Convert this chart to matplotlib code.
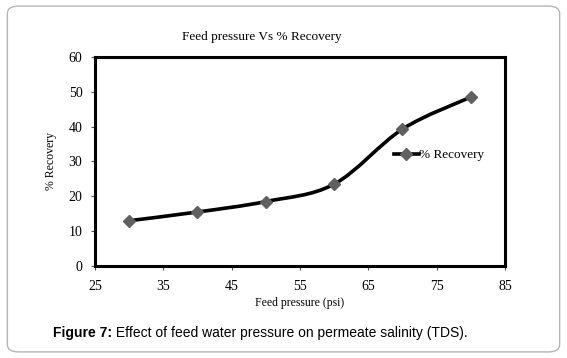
import matplotlib
matplotlib.use("Agg")
import matplotlib.pyplot as plt
from matplotlib.path import Path
from matplotlib.patches import PathPatch, FancyBboxPatch
from matplotlib.lines import Line2D
import numpy as np

pressure = [30, 40, 50, 60, 70, 80]
recovery = [13.0, 15.5, 18.5, 23.5, 39.3, 48.5]
x_ticks = [25, 35, 45, 55, 65, 75, 85]
y_ticks = [0, 10, 20, 30, 40, 50, 60]
title = "Feed pressure Vs % Recovery"
x_label = "Feed pressure (psi)"
y_label = "% Recovery"
series_name = "% Recovery"
caption_bold = "Figure 7:"
caption_rest = " Effect of feed water pressure on permeate salinity (TDS)."

serif = ["Liberation Serif", "DejaVu Serif"]
sans = ["Liberation Sans", "DejaVu Sans"]

fig = plt.figure(figsize=(5.67, 3.58), dpi=100)
fig.patch.set_facecolor("white")

# outer rounded frame
frame = FancyBboxPatch((0.013, 0.017), 0.974, 0.966,
                       boxstyle="round,pad=0,rounding_size=0.02",
                       transform=fig.transFigure, facecolor="white",
                       edgecolor="#b5b5b5", linewidth=1.0, zorder=-10)
fig.patches.append(frame)

ax = fig.add_axes([0.1675, 0.257, 0.7231, 0.5838])
ax.set_xlim(25, 85)
ax.set_ylim(0, 60)
ax.set_xticks(x_ticks)
ax.set_yticks(y_ticks)
for lab in ax.get_xticklabels() + ax.get_yticklabels():
    lab.set_fontfamily(serif)
    lab.set_fontsize(10)
ax.tick_params(direction="out", length=3, width=0.8, color="#555555")
ax.tick_params(axis="y", pad=6)
ax.tick_params(axis="x", pad=7)
for s in ax.spines.values():
    s.set_linewidth(2.2)
    s.set_color("black")

# smooth curve (Catmull-Rom as cubic Bezier) through the data
pts = np.column_stack([pressure, recovery]).astype(float)
ext = np.vstack([pts[0], pts, pts[-1]])
verts = [tuple(pts[0])]
codes = [Path.MOVETO]
for i in range(1, len(ext) - 2):
    p0, p1, p2, p3 = ext[i - 1], ext[i], ext[i + 1], ext[i + 2]
    c1 = p1 + (p2 - p0) / 6.0
    c2 = p2 - (p3 - p1) / 6.0
    verts += [tuple(c1), tuple(c2), tuple(p2)]
    codes += [Path.CURVE4] * 3
ax.add_patch(PathPatch(Path(verts, codes), facecolor="none",
                       edgecolor="black", linewidth=2.6, zorder=3))
ax.plot(pressure, recovery, linestyle="none", marker="D", markersize=6.5,
        markerfacecolor="#606060", markeredgecolor="#606060", zorder=4)

handle = Line2D([], [], color="black", linewidth=2.6, marker="D",
                markersize=6.5, markerfacecolor="#606060",
                markeredgecolor="#606060")
ax.legend([handle], [series_name], loc="center left",
          bbox_to_anchor=(0.7, 0.53), frameon=False, handlelength=1.9,
          handletextpad=0.0, prop={"family": serif, "size": 9.5})

ax.set_xlabel(x_label, fontfamily=serif, fontsize=8.5, labelpad=3)
ax.set_ylabel(y_label, fontfamily=serif, fontsize=8.5, labelpad=8)
fig.text(0.462, 0.898, title, ha="center", va="center",
         fontfamily=serif, fontsize=9.5)

cap_size = 10.0
t1 = fig.text(0.094, 0.059, caption_bold, ha="left", va="baseline",
              fontfamily=sans, fontsize=cap_size, fontweight="bold")
fig.canvas.draw()
bb = t1.get_window_extent()
fig.text(bb.x1 / fig.bbox.width, 0.059, caption_rest, ha="left",
         va="baseline", fontfamily=sans, fontsize=cap_size)

fig.savefig("out.png", dpi=100)
